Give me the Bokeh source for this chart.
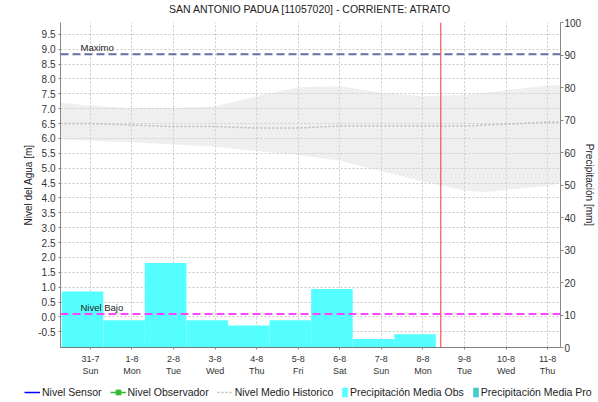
from bokeh.plotting import figure
from bokeh.layouts import column
from bokeh.models import (Range1d, LinearAxis, FixedTicker, NumeralTickFormatter,
                          ColumnDataSource, Span, Label, Legend, LegendItem, Title)
from bokeh.embed import file_html
from bokeh.resources import INLINE

# ---------------- data ----------------
day_labels = ["31-7", "1-8", "2-8", "3-8", "4-8", "5-8", "6-8", "7-8", "8-8", "9-8", "10-8", "11-8"]
weekdays = ["Sun", "Mon", "Tue", "Wed", "Thu", "Fri", "Sat", "Sun", "Mon", "Tue", "Wed", "Thu"]
day_index = list(range(len(day_labels)))  # day 0 = 31-7 00:00

x_start, x_end = -0.72, 11.31          # time window in days
now_day = 8.43                          # current time marker (8-8 ~10:20)

# daily precipitation (mm), each bar from day+0.31 to day+1.31
precip_day = [-1, 0, 1, 2, 3, 4, 5, 6, 7]
precip_mm = [17.2, 8.4, 26.0, 8.4, 6.8, 8.4, 18.0, 2.6, 4.1]
bar_offset = 0.31

# historical band (m)
hist_x = [-0.72, 0, 1, 2, 3, 4, 5, 6, 7, 8, 9, 9.5, 10, 11, 11.31]
hist_upper = [7.2, 7.1, 7.02, 7.02, 7.08, 7.42, 7.72, 7.76, 7.55, 7.42, 7.46, 7.54, 7.62, 7.78, 7.8]
hist_lower = [5.97, 5.92, 5.87, 5.8, 5.72, 5.58, 5.45, 5.25, 4.9, 4.55, 4.25, 4.2, 4.27, 4.4, 4.5]
hist_mean = [6.5, 6.5, 6.45, 6.4, 6.4, 6.35, 6.35, 6.42, 6.42, 6.42, 6.42, 6.45, 6.48, 6.55, 6.55]

nivel_maximo = 8.83
nivel_bajo = 0.10

level_ticks = [-0.5 + 0.5 * i for i in range(21)]
precip_ticks = list(range(0, 101, 10))

line_series = ["Nivel Sensor", "Nivel Observador", "Nivel Medio Historico"]
bar_series = ["Precipitación Media Obs", "Precipitación Media Pro"]

chart_title = "SAN ANTONIO PADUA [11057020] - CORRIENTE: ATRATO"

FONT = "Liberation Sans"

# ---------------- main figure ----------------
p = figure(width=598, height=378, output_backend="svg", toolbar_location=None,
           x_range=Range1d(x_start, x_end), y_range=Range1d(-1.03, 9.9),
           min_border_left=60, min_border_right=38, min_border_top=22, min_border_bottom=30)
p.frame_align = False
p.extra_y_ranges = {"precip": Range1d(0, 100)}
p.outline_line_color = None
p.background_fill_color = "white"

# spacer below the title, then the title itself
p.add_layout(Title(text=" ", text_font=FONT, text_font_size="5px", standoff=0), "above")
p.add_layout(Title(text=chart_title, align="center", vertical_align="bottom",
                   text_font=FONT, text_font_size="10.5px", text_font_style="normal",
                   text_color="#222222", standoff=0), "above")

# axes
p.xaxis.ticker = FixedTicker(ticks=day_index)
p.xaxis.major_label_overrides = {d: f"{l}\n{w}" for d, l, w in zip(day_index, day_labels, weekdays)}
p.xaxis.major_label_text_font = FONT
p.xaxis.major_label_text_font_size = "9px"
p.xaxis.major_label_text_color = "#333333"
p.xaxis.axis_line_color = "black"
p.xaxis.axis_line_dash = "1 1"
p.xaxis.major_tick_out = 2
p.xaxis.major_tick_in = 0
p.xaxis.major_tick_line_color = "#888888"
p.xaxis.minor_tick_line_color = None
p.xaxis.major_label_standoff = 4

p.yaxis.ticker = FixedTicker(ticks=level_ticks)
p.yaxis.formatter = NumeralTickFormatter(format="0.0")
p.yaxis.axis_label = "Nivel del Agua [m]"
p.yaxis.axis_label_text_font = FONT
p.yaxis.axis_label_text_font_size = "10px"
p.yaxis.axis_label_text_font_style = "normal"
p.yaxis.axis_label_text_color = "#222222"
p.yaxis.axis_label_standoff = 1
p.yaxis.major_label_text_font = FONT
p.yaxis.major_label_text_font_size = "10px"
p.yaxis.major_label_text_color = "#333333"
p.yaxis.axis_line_color = "#888888"
p.yaxis.major_tick_out = 2
p.yaxis.major_tick_in = 0
p.yaxis.major_tick_line_color = "#888888"
p.yaxis.minor_tick_line_color = None
p.yaxis.major_label_standoff = 3

raxis = LinearAxis(y_range_name="precip", ticker=FixedTicker(ticks=precip_ticks),
                   axis_label="Precipitación [mm]")
raxis.axis_label_text_font = FONT
raxis.axis_label_text_font_size = "10px"
raxis.axis_label_text_font_style = "normal"
raxis.axis_label_text_color = "#222222"
raxis.axis_label_standoff = 0
raxis.major_label_text_font = FONT
raxis.major_label_text_font_size = "10px"
raxis.major_label_text_color = "#333333"
raxis.axis_line_color = "#888888"
raxis.major_tick_out = 3
raxis.major_tick_in = 0
raxis.major_tick_line_color = "#888888"
raxis.minor_tick_line_color = None
raxis.major_label_standoff = 1
p.add_layout(raxis, "right")

# grids
p.xgrid.ticker = FixedTicker(ticks=day_index)
p.ygrid.ticker = FixedTicker(ticks=level_ticks)
for g in (p.xgrid, p.ygrid):
    g.grid_line_color = "#C8C8C8"
    g.grid_line_dash = "2 2"
    g.grid_line_width = 1

# historical band and mean
hist_src = ColumnDataSource(dict(x=hist_x, lo=hist_lower, hi=hist_upper, mean=hist_mean))
p.varea(x="x", y1="lo", y2="hi", source=hist_src, fill_color="#D8D8D8", fill_alpha=0.4)
p.line(x="x", y="mean", source=hist_src, line_color="#BBBBBB", line_dash="2 2", line_width=1.5)

# precipitation bars
bar_src = ColumnDataSource(dict(
    left=[d + bar_offset for d in precip_day],
    right=[d + 1 + bar_offset for d in precip_day],
    top=precip_mm,
    bottom=[0] * len(precip_mm)))
p.quad(left="left", right="right", top="top", bottom="bottom", source=bar_src,
       y_range_name="precip", fill_color="#55FFFF", line_color=None)

# reference levels
p.add_layout(Span(location=nivel_maximo, dimension="width", line_color="#6070A0",
                  line_dash="8 4", line_width=2))
p.add_layout(Span(location=nivel_bajo, dimension="width", line_color="#FF44FF",
                  line_dash="8 4", line_width=2))
p.add_layout(Span(location=now_day, dimension="height", line_color="#FF3333",
                  line_width=1))
for txt, lvl in (("Maximo", nivel_maximo), ("Nivel Bajo", nivel_bajo)):
    p.add_layout(Label(x=x_start, y=lvl, x_offset=20, y_offset=1, text=txt,
                       text_font=FONT, text_font_size="9.5px", text_color="#222222"))

# ---------------- legend strip ----------------
lf = figure(width=598, height=24, output_backend="svg", toolbar_location=None,
            x_range=Range1d(0, 1), y_range=Range1d(0, 1),
            x_axis_type=None, y_axis_type=None, min_border=0)
lf.frame_align = False
lf.outline_line_color = None

nan = float("nan")
proxy = ColumnDataSource(dict(x=[nan], y=[nan], l=[nan], r=[nan], t=[nan], b=[nan]))
r_sensor = lf.line(x="x", y="y", source=proxy, line_color="#0000FF", line_width=1.5)
r_obs_line = lf.line(x="x", y="y", source=proxy, line_color="#33BB33", line_width=1.5)
r_obs_mark = lf.scatter(x="x", y="y", source=proxy, marker="square", size=4,
                        fill_color="#33BB33", line_color="#33BB33")
r_mean = lf.line(x="x", y="y", source=proxy, line_color="#BBBBBB", line_dash="2 2", line_width=1.5)
r_obs = lf.quad(left="l", right="r", top="t", bottom="b", source=proxy,
                fill_color="#55FFFF", line_color=None)
r_pro = lf.quad(left="l", right="r", top="t", bottom="b", source=proxy,
                fill_color="#44CCCC", line_color=None)

leg_lines = Legend(items=[
    LegendItem(label=line_series[0], renderers=[r_sensor]),
    LegendItem(label=line_series[1], renderers=[r_obs_line, r_obs_mark]),
    LegendItem(label=line_series[2], renderers=[r_mean]),
], orientation="horizontal", location=(24, 4))
leg_bars = Legend(items=[
    LegendItem(label=bar_series[0], renderers=[r_obs]),
    LegendItem(label=bar_series[1], renderers=[r_pro]),
], orientation="horizontal", location=(341, 4))
for lg, gw in ((leg_lines, 16), (leg_bars, 7)):
    lg.label_text_font = FONT
    lg.label_text_font_size = "10.5px"
    lg.label_text_color = "#222222"
    lg.glyph_width = gw
    lg.glyph_height = 12
    lg.label_height = 12
    lg.label_standoff = 2
    lg.spacing = 8
    lg.padding = 0
    lg.margin = 0
    lg.border_line_color = None
    lg.background_fill_alpha = 0
    lf.add_layout(lg, "center")

layout = column(p, lf, spacing=0)
open("out.html", "w").write(file_html(layout, INLINE))
